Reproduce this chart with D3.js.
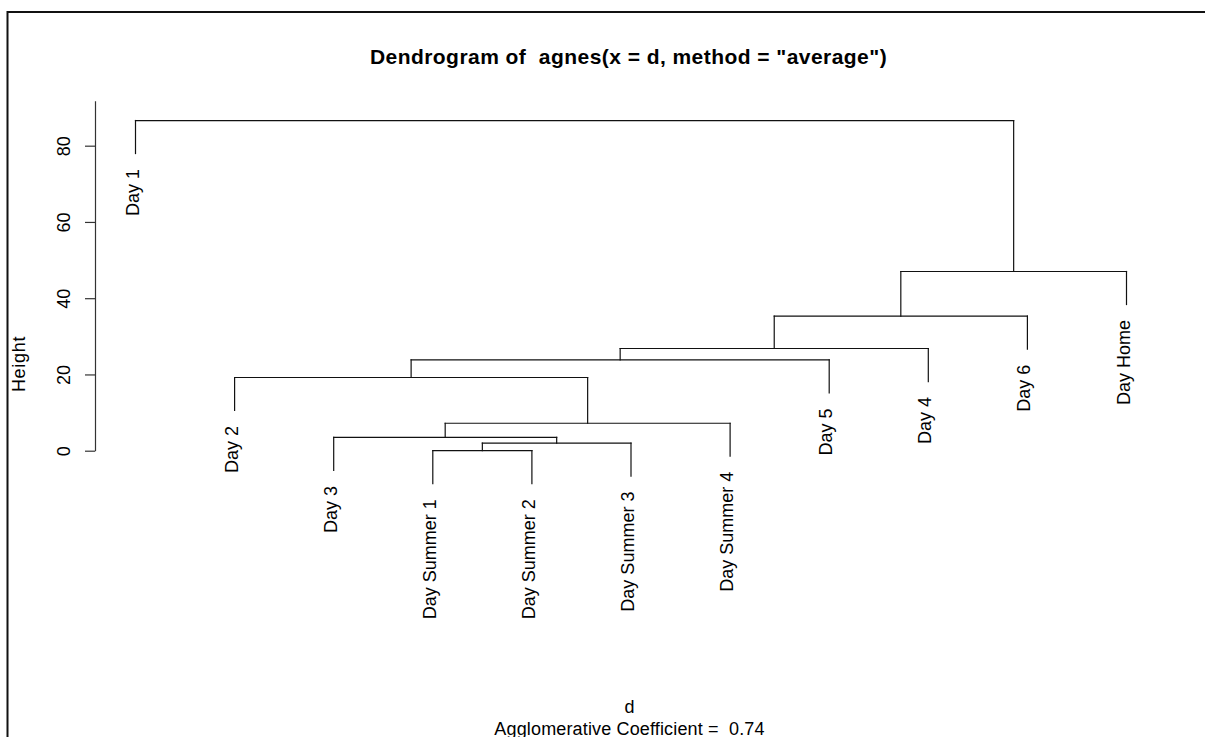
<!DOCTYPE html>
<html>
<head>
<meta charset="utf-8">
<script src="https://cdn.jsdelivr.net/npm/d3@7/dist/d3.min.js"></script>
<style>
  html, body { margin: 0; padding: 0; background: #fff; }
  svg { display: block; }
  text { font-family: "Liberation Sans", Arial, sans-serif; fill: #000; }
</style>
</head>
<body>
<svg id="chart" width="1205" height="737"></svg>
<script>
// Leaf labels in dendrogram order
const leafLabels = ["Day 1", "Day 2", "Day 3", "Day Summer 1", "Day Summer 2",
  "Day Summer 3", "Day Summer 4", "Day 5", "Day 4", "Day 6", "Day Home"];
// Merge steps: a string is a leaf, a number refers to an earlier merge step (1-based)
const mergeLeft   = ["Day Summer 1", 1, "Day 3", 3, "Day 2", 5, 6, 7, 8, "Day 1"];
const mergeRight  = ["Day Summer 2", "Day Summer 3", 2, "Day Summer 4", 4, "Day 5", "Day 4", "Day 6", "Day Home", 9];
const mergeHeight = [0.0, 2.0, 3.5, 7.2, 19.2, 23.8, 26.8, 35.3, 47.0, 86.6];
const yTicks = [0, 20, 40, 60, 80];
const titleText = "Dendrogram of  agnes(x = d, method = \"average\")";
const xLabel = "d";
const subLabel = "Agglomerative Coefficient =  0.74";
const yLabel = "Height";

const svg = d3.select("#chart");

// frame
svg.append("path")
  .attr("d", "M7.5,737 L7.5,12 L1215,12")
  .attr("fill", "none").attr("stroke", "#111").attr("stroke-width", 2);

const x = d3.scalePoint().domain(leafLabels).range([135.5, 1126.5]);
const y = d3.scaleLinear().domain([0, 91.8]).range([450.7, 100.7]);

const hang = 0.1 * (d3.max(mergeHeight) - d3.min(mergeHeight));

// compute node positions
const nodes = [];
function pos(ref) {
  if (typeof ref === "string") return { x: x(ref), h: null, leaf: ref };
  return nodes[ref - 1];
}
const segs = [];
const leafEnds = [];
mergeHeight.forEach((h, i) => {
  const a = pos(mergeLeft[i]), b = pos(mergeRight[i]);
  [a, b].forEach(c => {
    const bottom = c.leaf ? h - hang : c.h;
    if (c.leaf) leafEnds.push({ label: c.leaf, x: c.x, h: bottom });
    segs.push([c.x, h, c.x, bottom]);
  });
  segs.push([a.x, h, b.x, h]);
  nodes.push({ x: (a.x + b.x) / 2, h: h });
});

const g = svg.append("g");
g.selectAll("line.seg").data(segs).join("line")
  .attr("class", "seg")
  .attr("x1", d => d[0]).attr("y1", d => y(d[1]))
  .attr("x2", d => d[2]).attr("y2", d => y(d[3]))
  .attr("stroke", "#111").attr("stroke-width", 1.2)
  .attr("stroke-linecap", "square");

// leaf labels
g.selectAll("text.leaf").data(leafEnds).join("text")
  .attr("class", "leaf")
  .attr("transform", d => `translate(${d.x},${y(d.h) + 15.5}) rotate(-90)`)
  .attr("text-anchor", "end")
  .attr("dy", "0.17em")
  .style("font-size", "18px")
  .text(d => d.label);

// y axis
const axis = svg.append("g")
  .attr("transform", "translate(95,0)")
  .call(d3.axisLeft(y).tickValues(yTicks).tickSize(10).tickSizeOuter(0).tickPadding(0));
axis.select(".domain").attr("stroke", "#333").attr("stroke-width", 1.2);
axis.selectAll(".tick line").attr("stroke", "#333").attr("stroke-width", 1.2);
axis.selectAll(".tick text")
  .attr("x", null).attr("dy", null)
  .attr("transform", "translate(-25,0) rotate(-90)")
  .attr("text-anchor", "middle")
  .style("font-family", "'Liberation Sans', Arial, sans-serif")
  .style("font-size", "18px")
  .attr("fill", "#000");

// y label
svg.append("text")
  .attr("transform", "translate(25,364) rotate(-90)")
  .attr("text-anchor", "middle")
  .style("font-size", "18px")
  .style("letter-spacing", "0.7px")
  .text(yLabel);

// title
svg.append("text")
  .attr("x", 628.5).attr("y", 64.3)
  .attr("text-anchor", "middle")
  .style("font-size", "21px").style("font-weight", "bold")
  .style("letter-spacing", "0.45px")
  .style("white-space", "pre")
  .text(titleText);

svg.append("text")
  .attr("x", 629.5).attr("y", 713.3)
  .attr("text-anchor", "middle")
  .style("font-size", "18px")
  .text(xLabel);

svg.append("text")
  .attr("x", 629.5).attr("y", 735)
  .attr("text-anchor", "middle")
  .style("font-size", "18px")
  .style("letter-spacing", "0.15px")
  .style("white-space", "pre")
  .text(subLabel);
</script>
</body>
</html>
